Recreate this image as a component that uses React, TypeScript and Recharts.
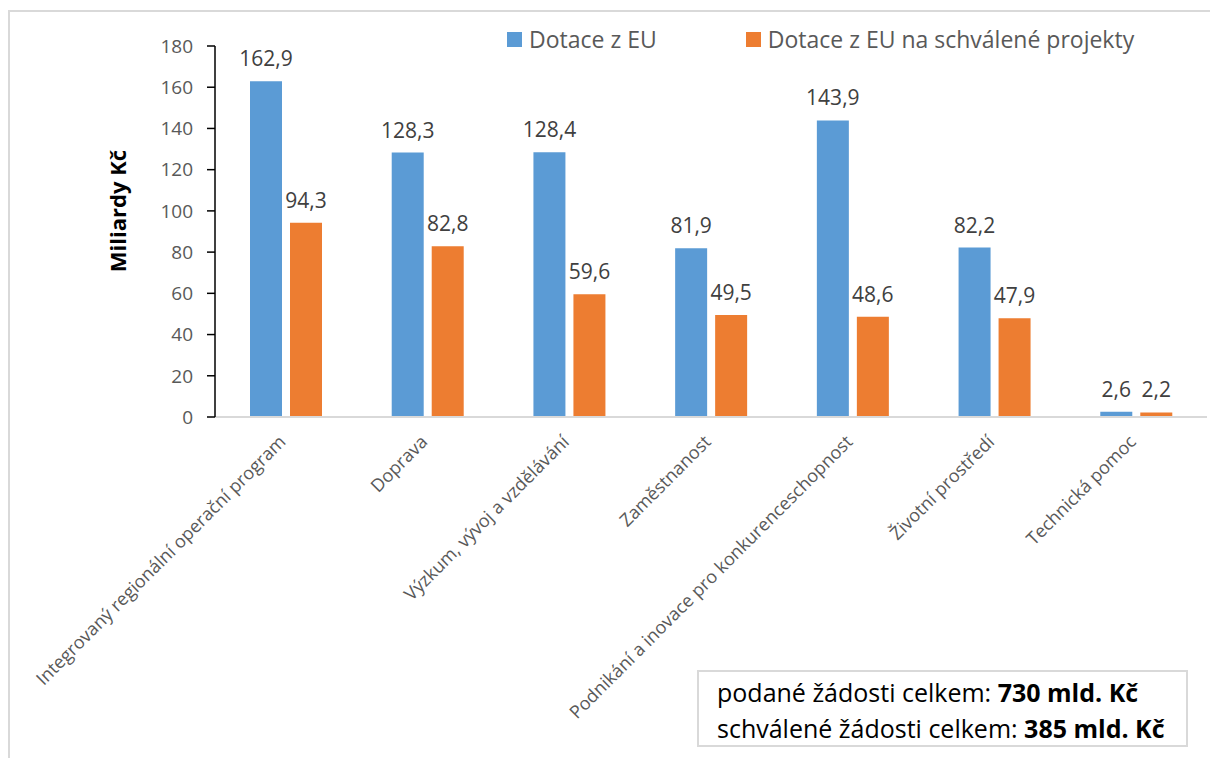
import React from 'react';
import { BarChart, Bar, XAxis, YAxis, Legend, LabelList } from 'recharts';

const categories = [
  'Integrovaný regionální operační program',
  'Doprava',
  'Výzkum, vývoj a vzdělávání',
  'Zaměstnanost',
  'Podnikání a inovace pro konkurenceschopnost',
  'Životní prostředí',
  'Technická pomoc',
];
const dotaceEU = [162.9, 128.3, 128.4, 81.9, 143.9, 82.2, 2.6];
const dotaceSchvalene = [94.3, 82.8, 59.6, 49.5, 48.6, 47.9, 2.2];
const yTicks = [0, 20, 40, 60, 80, 100, 120, 140, 160, 180];
const seriesNames = ['Dotace z EU', 'Dotace z EU na schválené projekty'];
const seriesColors = ['#5b9bd5', '#ed7d31'];

const data = categories.map((name, i) => ({
  name,
  eu: dotaceEU[i],
  schvalene: dotaceSchvalene[i],
}));

const FONT = '"Open Sans", "Noto Sans", sans-serif';
const fmt = (v: any) => Number(v).toFixed(1).replace('.', ',');

const CategoryTick = (props: any) => {
  const { x, y, payload } = props;
  return (
    <g transform={`translate(${x + 1},${y + 18})`}>
      <text
        x={0}
        y={0}
        textAnchor="end"
        transform="rotate(-45)"
        fill="#595959"
        fontSize={18}
        fontFamily={FONT}
      >
        {payload.value}
      </text>
    </g>
  );
};

const LegendContent = () => (
  <div style={{ display: 'flex', alignItems: 'center', fontFamily: FONT, fontSize: 23, color: '#595959' }}>
    {seriesNames.map((n, i) => (
      <div key={n} style={{ display: 'flex', alignItems: 'center', marginRight: i === 0 ? 89 : 0 }}>
        <span style={{ width: 15, height: 15, background: seriesColors[i], display: 'inline-block', marginRight: 7 }} />
        <span style={{ whiteSpace: 'nowrap' }}>{n}</span>
      </div>
    ))}
  </div>
);

export default function App() {
  return (
    <div style={{ position: 'absolute', left: 0, top: 0, width: 1210, height: 758, background: '#fff', overflow: 'hidden' }}>
      {/* frame of the original chart area */}
      <div style={{ position: 'absolute', left: 8, top: 10, width: 1210, height: 760, borderLeft: '2px solid #d9d9d9', borderTop: '2px solid #d9d9d9' }} />
      <BarChart
        width={1210}
        height={758}
        data={data}
        margin={{ top: 46, right: 3, bottom: 21, left: 155 }}
        barSize={32}
        barGap={8}
        style={{ position: 'absolute', left: 0, top: 0 }}
      >
        <XAxis
          dataKey="name"
          interval={0}
          height={320}
          axisLine={{ stroke: '#d9d9d9', strokeWidth: 2 }}
          tickLine={false}
          tick={<CategoryTick />}
        />
        <YAxis
          width={60}
          domain={[0, 180]}
          ticks={yTicks}
          interval={0}
          axisLine={{ stroke: '#000', strokeWidth: 1.5 }}
          tickLine={{ stroke: '#000', strokeWidth: 1.5 }}
          tickSize={8}
          tickMargin={14}
          tick={{ fill: '#595959', fontSize: 19, fontFamily: FONT }}
          label={(props: any) => {
            const vb = props.viewBox || { x: 155, y: 46, width: 60, height: 371 };
            const cx = vb.x - 38;
            const cy = 211;
            return (
              <text
                x={cx}
                y={cy}
                transform={`rotate(-90, ${cx}, ${cy})`}
                textAnchor="middle"
                dominantBaseline="central"
                fontFamily={FONT}
                fontWeight="bold"
                fontSize={22}
                fill="#000"
              >
                Miliardy Kč
              </text>
            );
          }}
        />
        <Legend
          layout="horizontal"
          verticalAlign="middle"
          align="center"
          wrapperStyle={{ top: 23, left: 507, width: 'auto' }}
          content={<LegendContent />}
        />
        <Bar dataKey="eu" name={seriesNames[0]} fill={seriesColors[0]} isAnimationActive={false}>
          <LabelList dataKey="eu" position="top" offset={15} fill="#404040" fontSize={21} fontFamily={FONT} formatter={fmt} />
        </Bar>
        <Bar dataKey="schvalene" name={seriesNames[1]} fill={seriesColors[1]} isAnimationActive={false}>
          <LabelList dataKey="schvalene" position="top" offset={15} fill="#404040" fontSize={21} fontFamily={FONT} formatter={fmt} />
        </Bar>
      </BarChart>
      <div
        style={{
          position: 'absolute',
          left: 697,
          top: 670,
          width: 491,
          height: 77,
          boxSizing: 'border-box',
          border: '2px solid #d9d9d9',
          padding: '2px 0 0 18px',
          fontFamily: FONT,
          fontSize: 25,
          lineHeight: '36px',
          color: '#000',
          whiteSpace: 'nowrap',
          background: '#fff',
        }}
      >
        <div>podané žádosti celkem: <b>730 mld. Kč</b></div>
        <div>schválené žádosti celkem: <b>385 mld. Kč</b></div>
      </div>
    </div>
  );
}
